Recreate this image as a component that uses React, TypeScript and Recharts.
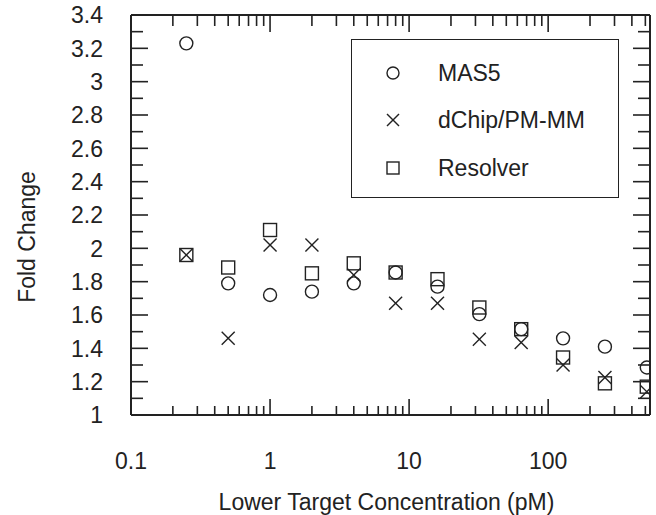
import React from "react";
import { ScatterChart, Scatter, XAxis, YAxis, Label } from "recharts";

const concentrations = [0.25, 0.5, 1, 2, 4, 8, 16, 32, 64, 128, 256, 512];
const mas5 = [3.23, 1.79, 1.72, 1.74, 1.79, 1.855, 1.77, 1.605, 1.515, 1.46, 1.41, 1.285];
const dchip = [1.96, 1.46, 2.02, 2.02, 1.84, 1.67, 1.67, 1.455, 1.435, 1.3, 1.225, 1.14];
const resolver = [1.96, 1.885, 2.11, 1.85, 1.91, 1.855, 1.815, 1.645, 1.515, 1.345, 1.19, 1.17];

const xTicks = [
  0.1, 0.2, 0.3, 0.4, 0.5, 0.6, 0.7, 0.8, 0.9,
  1, 2, 3, 4, 5, 6, 7, 8, 9,
  10, 20, 30, 40, 50, 60, 70, 80, 90,
  100, 200, 300, 400, 500,
];
const xMajor = [0.1, 1, 10, 100];
const xLabels = ["0.1", "1", "10", "100"];
const yTicks = [1, 1.1, 1.2, 1.3, 1.4, 1.5, 1.6, 1.7, 1.8, 1.9, 2, 2.1, 2.2, 2.3, 2.4, 2.5, 2.6, 2.7, 2.8, 2.9, 3, 3.1, 3.2, 3.3, 3.4];
const yMajor = [1, 1.2, 1.4, 1.6, 1.8, 2, 2.2, 2.4, 2.6, 2.8, 3, 3.2, 3.4];
const yLabels = ["1", "1.2", "1.4", "1.6", "1.8", "2", "2.2", "2.4", "2.6", "2.8", "3", "3.2", "3.4"];
const seriesNames = ["MAS5", "dChip/PM-MM", "Resolver"];

const INK = "#222";
const FONT = "'Liberation Sans', Arial, Helvetica, sans-serif";
const FS = 23;

const mk = (vals: number[]) => concentrations.map((x, i) => ({ x, y: vals[i] }));

const isIn = (arr: number[], v: number) => arr.some((a) => Math.abs(a - v) < 1e-9);
const labelOf = (arr: number[], labels: string[], v: number) => {
  const i = arr.findIndex((a) => Math.abs(a - v) < 1e-9);
  return i >= 0 ? labels[i] : null;
};

const CircleShape = (p: any) => (
  <circle cx={p.cx} cy={p.cy} r={6.5} fill="none" stroke={INK} strokeWidth={1.4} />
);
const SquareShape = (p: any) => (
  <rect x={p.cx - 6.5} y={p.cy - 6.5} width={13} height={13} fill="none" stroke={INK} strokeWidth={1.4} />
);
const XShape = (p: any) => (
  <g stroke={INK} strokeWidth={1.4}>
    <line x1={p.cx - 6.5} y1={p.cy - 6.5} x2={p.cx + 6.5} y2={p.cy + 6.5} />
    <line x1={p.cx - 6.5} y1={p.cy + 6.5} x2={p.cx + 6.5} y2={p.cy - 6.5} />
  </g>
);

const BottomTick = (p: any) => {
  const v = p.payload.value;
  const major = isIn(xMajor, v);
  const lab = labelOf(xMajor, xLabels, v);
  return (
    <g>
      <line x1={p.x} y1={p.y} x2={p.x} y2={p.y - (major ? 16 : 9)} stroke={INK} strokeWidth={1.6} />
      {lab && (
        <text x={p.x} y={p.y + 54} textAnchor="middle" fontSize={FS} fontFamily={FONT} fill={INK}>
          {lab}
        </text>
      )}
    </g>
  );
};
const TopTick = (p: any) => {
  const v = p.payload.value;
  const major = isIn(xMajor, v);
  return <line x1={p.x} y1={p.y} x2={p.x} y2={p.y + (major ? 17 : 11)} stroke={INK} strokeWidth={1.6} />;
};
const LeftTick = (p: any) => {
  const v = p.payload.value;
  const major = isIn(yMajor, v);
  const lab = labelOf(yMajor, yLabels, v);
  return (
    <g>
      <line x1={p.x} y1={p.y} x2={p.x + (major ? 17 : 12)} y2={p.y} stroke={INK} strokeWidth={1.6} />
      {lab && (
        <text x={p.x - 28} y={p.y + 8.2} textAnchor="end" fontSize={FS} fontFamily={FONT} fill={INK}>
          {lab}
        </text>
      )}
    </g>
  );
};
const RightTick = (p: any) => {
  const v = p.payload.value;
  const major = isIn(yMajor, v);
  return <line x1={p.x} y1={p.y} x2={p.x - (major ? 17 : 12)} y2={p.y} stroke={INK} strokeWidth={1.6} />;
};

const YTitle = (p: any) => {
  const vb = p.viewBox || { x: 0, y: 15, width: 131, height: 400 };
  const cx = vb.x + 27;
  const cy = vb.y + vb.height / 2 + 22;
  return (
    <text
      x={cx}
      y={cy}
      transform={`rotate(-90 ${cx} ${cy})`}
      textAnchor="middle"
      dominantBaseline="central"
      fontSize={FS}
      fontFamily={FONT}
      fill={INK}
    >
      Fold Change
    </text>
  );
};
const XTitle = (p: any) => {
  const vb = p.viewBox || { x: 131, y: 415, width: 519, height: 100 };
  return (
    <text x={vb.x + vb.width / 2 - 4} y={vb.y + 95} textAnchor="middle" fontSize={FS} fontFamily={FONT} fill={INK}>
      Lower Target Concentration (pM)
    </text>
  );
};

const LegendSymbol = ({ kind }: { kind: number }) => (
  <svg width={16} height={16} style={{ display: "block" }}>
    {kind === 0 && <circle cx={8} cy={8} r={6} fill="none" stroke={INK} strokeWidth={1.4} />}
    {kind === 1 && (
      <g stroke={INK} strokeWidth={1.4}>
        <line x1={2} y1={2} x2={14} y2={14} />
        <line x1={2} y1={14} x2={14} y2={2} />
      </g>
    )}
    {kind === 2 && <rect x={2} y={2} width={12} height={12} fill="none" stroke={INK} strokeWidth={1.4} />}
  </svg>
);

const rowTops = [33, 80, 128];

export default function App() {
  return (
    <div style={{ position: "absolute", left: 0, top: 0, width: 656, height: 515, background: "#fff" }}>
      <ScatterChart width={656} height={515} margin={{ top: 14, right: 5, bottom: 0, left: 0 }}>
        <XAxis
          xAxisId="b"
          dataKey="x"
          type="number"
          scale="log"
          domain={[0.1, 540]}
          allowDataOverflow
          ticks={xTicks}
          interval={0}
          orientation="bottom"
          height={100}
          tickSize={0}
          tickMargin={0}
          tickLine={false}
          tick={BottomTick}
          axisLine={{ stroke: INK, strokeWidth: 2 }}
        >
          <Label content={XTitle} />
        </XAxis>
        <XAxis
          xAxisId="t"
          dataKey="x"
          type="number"
          scale="log"
          domain={[0.1, 540]}
          allowDataOverflow
          ticks={xTicks}
          interval={0}
          orientation="top"
          height={1}
          tickSize={0}
          tickMargin={0}
          tickLine={false}
          tick={TopTick}
          axisLine={{ stroke: INK, strokeWidth: 2 }}
        />
        <YAxis
          yAxisId="l"
          dataKey="y"
          type="number"
          domain={[1, 3.4]}
          allowDataOverflow
          ticks={yTicks}
          interval={0}
          orientation="left"
          width={131}
          tickSize={0}
          tickMargin={0}
          tickLine={false}
          tick={LeftTick}
          axisLine={{ stroke: INK, strokeWidth: 2 }}
        >
          <Label content={YTitle} />
        </YAxis>
        <YAxis
          yAxisId="r"
          dataKey="y"
          type="number"
          domain={[1, 3.4]}
          allowDataOverflow
          ticks={yTicks}
          interval={0}
          orientation="right"
          width={1}
          tickSize={0}
          tickMargin={0}
          tickLine={false}
          tick={RightTick}
          axisLine={{ stroke: INK, strokeWidth: 2 }}
        />
        <Scatter name={seriesNames[0]} data={mk(mas5)} xAxisId="b" yAxisId="l" shape={CircleShape} isAnimationActive={false} />
        <Scatter name={seriesNames[1]} data={mk(dchip)} xAxisId="b" yAxisId="l" shape={XShape} isAnimationActive={false} />
        <Scatter name={seriesNames[2]} data={mk(resolver)} xAxisId="b" yAxisId="l" shape={SquareShape} isAnimationActive={false} />
      </ScatterChart>
      <div
        style={{
          position: "absolute",
          left: 351,
          top: 39,
          width: 268,
          height: 159,
          boxSizing: "border-box",
          border: `1.5px solid ${INK}`,
          background: "#fff",
          fontFamily: FONT,
          fontSize: FS,
          color: INK,
        }}
      >
        {seriesNames.map((n, i) => (
          <div key={n} style={{ position: "absolute", left: 0, top: rowTops[i] - 14, height: 28, display: "flex", alignItems: "center" }}>
            <div style={{ position: "absolute", left: 33 }}>
              <LegendSymbol kind={i} />
            </div>
            <span style={{ position: "absolute", left: 86, whiteSpace: "nowrap", lineHeight: "28px" }}>{n}</span>
          </div>
        ))}
      </div>
    </div>
  );
}
